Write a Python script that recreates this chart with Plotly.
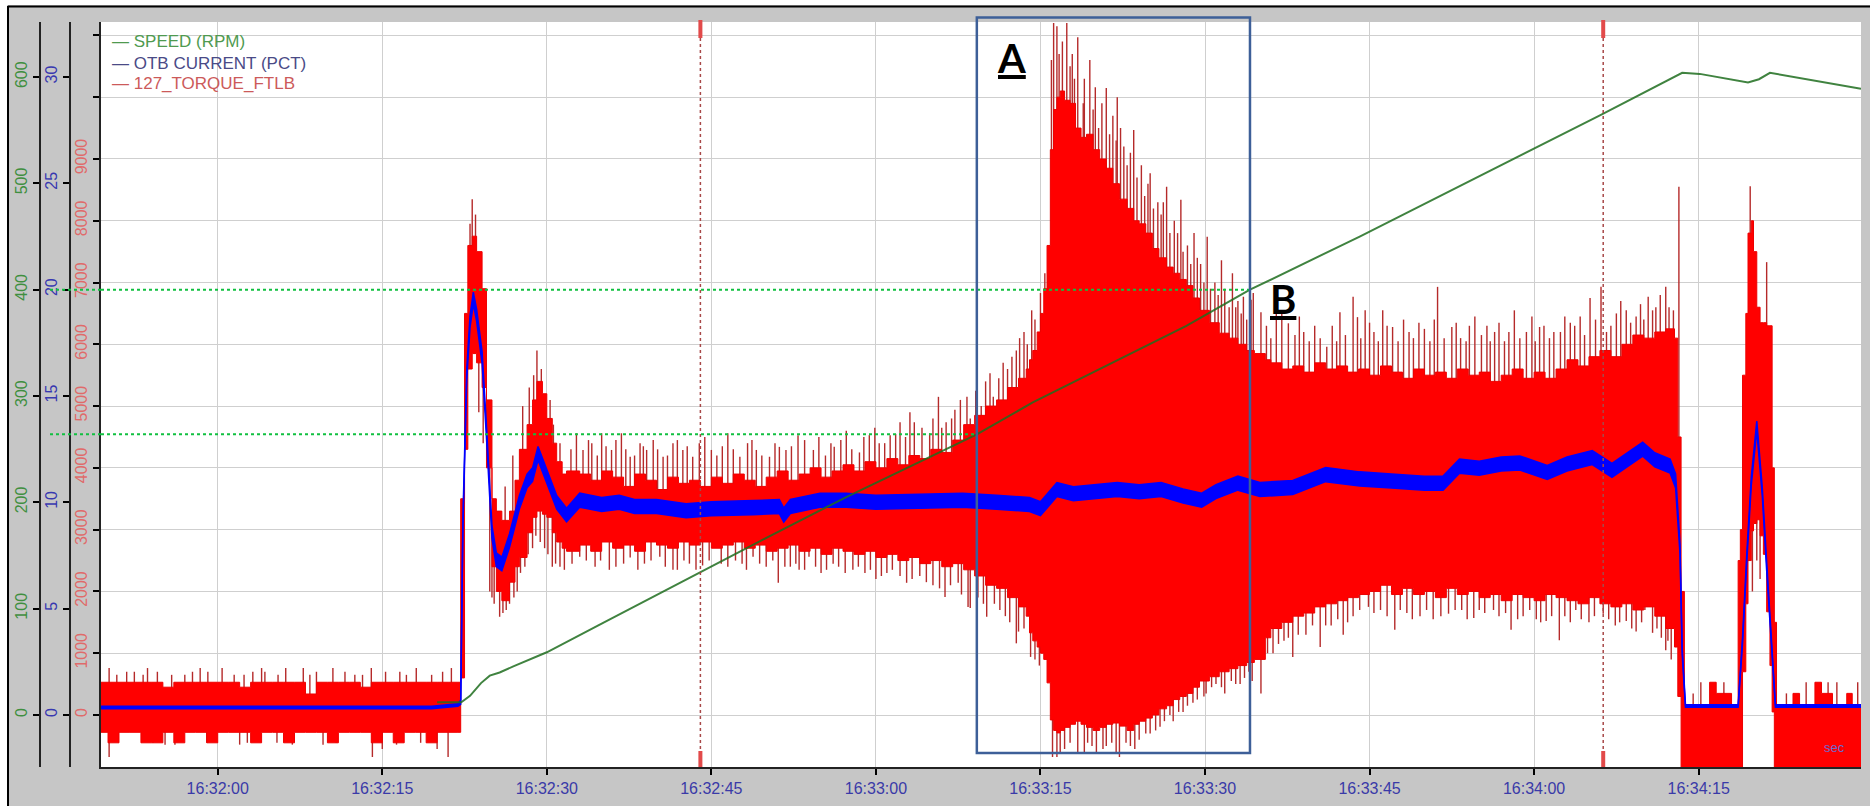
import numpy as np
import pandas as pd
import plotly.graph_objects as go

# ---------------------------------------------------------------- data
# all times are seconds after 16:32:00
T0 = pd.Timestamp("2020-01-01 16:32:00")
X_RANGE_S = [-10.64, 149.8]

# 127_TORQUE_FTLB : body envelope of the oscillating signal (step samples)
BODY_T = [-10.7, -10, -9, -8, -7, -6, -5, -4, -3, -2, -1, 0, 1, 2, 3, 4, 5, 6, 7, 8, 9, 10, 11, 12, 13, 14, 15, 16, 17, 18, 19, 20, 21,
          21.9, 22.15, 22.5, 22.8, 23.2, 23.6, 24.1, 24.5, 25.0, 25.4, 25.9, 26.6, 27.1, 27.5, 28.2, 28.7, 29.1, 29.6, 30.0, 30.5, 30.9, 31.4, 31.8,
          33, 34, 35, 36, 37, 38, 39, 40, 41, 42, 43, 44, 45, 46, 47, 48, 49, 50, 51, 52, 53, 54, 55, 56, 57, 58, 59, 60, 61, 62, 63, 64, 65, 66, 67, 68, 69, 70, 71, 72, 73,
          73.7, 74.0, 74.3, 74.7, 75.0, 75.3, 75.6, 75.9, 76.2, 76.5, 76.8, 77.2, 77.7, 78.2, 78.7, 79.2, 79.8, 80.4, 81.0, 81.6, 82.2, 82.9, 83.5, 84.0, 84.6, 85.2, 85.8, 86.5, 87.1, 87.7, 88.3, 88.9, 89.5, 90.4, 91.3, 92.2, 93.0, 93.8, 94.5, 95.5,
          96, 97, 98, 99, 100, 101, 102, 103, 104, 105, 106, 107, 108, 109, 110, 111, 112, 113, 114, 115, 116, 117, 118, 119, 120, 121, 122, 123, 124, 125, 126, 127, 128, 129, 130, 131, 132,
          132.8, 133.1, 133.4, 133.7, 136.0, 136.6, 138.0, 138.6, 138.8, 139.0, 139.3, 139.5, 139.8, 140.0, 140.3, 140.6, 140.9, 141.2, 141.5, 141.7, 141.9, 142.1, 143.6, 144.2, 145.6, 146.2, 147.2, 148.5, 149.0, 149.9]
BODY_HI = [530, 530, 530, 530, 530, 530, 450, 530, 530, 530, 530, 530, 530, 450, 530, 530, 530, 530, 530, 340, 530, 530, 530, 530, 450, 530, 530, 530, 530, 530, 530, 530, 530,
           530, 3500, 6500, 7600, 7750, 7500, 6900, 5100, 3500, 3300, 3150, 3300, 3800, 4300, 4700, 5100, 5400, 5200, 4800, 4400, 4100, 3900, 3950,
           3900, 3800, 3950, 3850, 3700, 3900, 3800, 3650, 3850, 3750, 3800, 3700, 3850, 3750, 3900, 3800, 3700, 3850, 3950, 3800, 3900, 4000, 3850, 3950, 4050, 3950, 4100, 4000, 4150, 4050, 4200, 4150, 4300, 4250, 4450, 4700, 4850, 5000, 5100, 5300, 5450,
           5600, 5750, 5900, 6200, 6500, 6900, 7600, 9150, 9800, 10000, 10100, 9950, 9900, 9500, 9350, 9400, 9150, 9000, 8850, 8600, 8350, 8200, 8000, 7950, 7800, 7550, 7400, 7250, 7150, 7050, 6950, 6750, 6550, 6350, 6180, 6100, 6000, 5900, 5850, 5750,
           5700, 5600, 5650, 5550, 5700, 5600, 5650, 5550, 5600, 5500, 5650, 5550, 5450, 5600, 5500, 5550, 5450, 5600, 5500, 5550, 5400, 5500, 5600, 5450, 5550, 5450, 5600, 5750, 5650, 5800, 5900, 5800, 6000, 6150, 6100, 6200, 6250,
           6100, 4500, 2000, 160, 530, 350, 160, 2500, 3000, 5500, 6500, 7800, 8000, 7500, 6600, 6350, 6350, 6300, 6300, 4000, 1500, 160, 350, 160, 530, 350, 160, 350, 160, 160]
BODY_LO = [-280, -450, -280, -280, -450, -450, -280, -450, -280, -280, -450, -280, -280, -280, -450, -280, -280, -450, -280, -280, -280, -450, -280, -280, -280, -450, -280, -450, -280, -280, -450, -280, -280,
           -280, 600, 4300, 5600, 5850, 5700, 5300, 4000, 2400, 2000, 1850, 2150, 2400, 2550, 2950, 3200, 3300, 3250, 3200, 2950, 2800, 2700, 2650,
           2750, 2650, 2800, 2700, 2750, 2650, 2800, 2750, 2700, 2800, 2750, 2800, 2700, 2750, 2800, 2700, 2750, 2650, 2700, 2750, 2650, 2700, 2600, 2700, 2650, 2600, 2650, 2550, 2600, 2500, 2550, 2450, 2500, 2400, 2450, 2350, 2250, 2100, 2050, 1900, 1750,
           1600, 1330, 1200, 1100, 1000, 900, 520, -80, -250, -290, -250, -200, -150, -100, -150, -200, -250, -200, -150, -130, -180, -250, -150, -100, -50, 0, 100, 150, 250, 300, 350, 450, 550, 620, 700, 750, 800, 850, 900, 1250,
           1400, 1500, 1600, 1650, 1750, 1800, 1850, 1900, 1950, 2000, 2100, 1950, 2050, 1950, 2000, 1900, 2050, 1950, 2000, 1900, 1950, 1850, 1950, 1900, 1850, 1950, 1900, 1850, 1800, 1900, 1800, 1750, 1800, 1700, 1750, 1600, 1400,
           1100, 300, -1200, -1200, -1200, -1200, -1200, -1200, -1200, 700, 1800, 2500, 2980, 3100, 3160, 2900, 2600, 1670, 800, 50, -1200, -1200, -1200, -1200, -1200, -1200, -1200, -1200, -1200, -1200]

# torque spikes beyond the body (time s, FTLB)
SPIKES_UP = [(-9.9, 760), (-9.2, 650), (-8.3, 700), (-7.6, 700), (-6.8, 650), (-6.4, 760), (-5.5, 700), (-4.2, 650), (-3.0, 650), (-2.3, 700),
             (-1.6, 760), (-0.9, 700), (0.4, 760), (1.5, 650), (2.4, 650), (3.2, 700), (4.0, 760), (4.3, 700), (5.5, 650), (6.2, 760),
             (7.8, 760), (8.4, 650), (9.0, 700), (10.5, 760), (11.6, 700), (12.5, 650), (13.2, 650), (14.0, 760), (15.3, 700), (16.6, 700),
             (17.2, 650), (18.1, 760), (19.5, 650), (20.5, 700), (21.3, 760),
             (23.0, 7950), (23.2, 8350), (23.5, 8100), (24.3, 6300), (26.2, 3700), (26.9, 4200), (27.8, 5000), (28.4, 5300), (28.8, 5500), (29.1, 5900),
             (29.5, 5600), (30.3, 5100), (30.6, 4700), (31.2, 4400),
             (32.2, 4300), (32.7, 4560), (33.3, 4290), (33.8, 4450), (34.1, 4400), (34.6, 4200), (35.0, 4560), (35.4, 4350), (35.9, 4290), (36.3, 4450),
             (36.8, 4560), (37.2, 4300), (37.6, 4180), (38.0, 4200), (38.5, 4400), (38.8, 4350), (39.1, 4290), (39.7, 4450), (40.1, 4300), (40.6, 4180),
             (41.0, 4200), (41.5, 4400), (41.9, 4450), (42.4, 4290), (42.8, 4350), (43.3, 4180), (43.9, 4400), (44.4, 4500), (45.0, 4290), (45.5, 4200),
             (46.0, 4350), (46.5, 4560), (47.0, 4300), (47.6, 4180), (48.3, 4400), (48.7, 4450), (49.1, 4290), (49.6, 4200), (50.3, 4180), (50.8, 4400),
             (51.2, 4340), (51.8, 4290), (52.3, 4350), (52.9, 4530), (53.5, 4450), (54.3, 4290), (54.8, 4500), (55.4, 4200), (55.9, 4400), (56.2, 4340),
             (56.8, 4450), (57.3, 4600), (57.8, 4300), (58.5, 4250), (58.9, 4500), (59.4, 4530), (59.9, 4650), (60.3, 4400), (60.8, 4400), (61.3, 4530),
             (61.8, 4550), (62.2, 4740), (62.7, 4500), (63.1, 4900), (63.5, 4740), (64.2, 4650), (64.9, 4560), (65.2, 4800), (65.7, 5150), (66.0, 4650),
             (66.4, 4740), (66.9, 4800), (67.2, 4940), (67.7, 5100), (68.3, 5150), (68.6, 4800), (69.1, 5250), (69.6, 5000), (70.0, 5400), (70.4, 5530),
             (70.7, 5150), (71.2, 5450), (71.6, 5700), (72.0, 5600), (72.4, 5800), (72.8, 5900), (73.1, 6100), (73.5, 6200), (73.8, 6000), (74.2, 6550),
             (74.5, 6400), (75.0, 6830), (75.4, 7150),
             (76.0, 10600), (76.2, 11200), (76.5, 11150), (76.7, 10700), (77.0, 10900), (77.4, 11200), (77.7, 10500), (77.9, 10700), (78.1, 10300),
             (78.4, 10970), (78.9, 9900), (79.0, 10300), (79.5, 10600), (79.8, 9800), (80.0, 10160), (80.3, 9500), (80.6, 9900), (81.0, 10150),
             (81.3, 9400), (81.6, 9700), (81.9, 9300), (82.0, 10000), (82.3, 9500), (82.6, 9200), (82.9, 8900), (83.2, 9100), (83.5, 9470), (83.8, 8700),
             (84.2, 8900), (84.5, 8400), (84.8, 8600), (85.0, 8770), (85.3, 8200), (85.7, 8300), (86.0, 8100), (86.2, 8300), (86.5, 8550), (86.8, 7800),
             (87.2, 8000), (87.5, 7800), (87.8, 8340), (88.0, 7500), (88.4, 7600), (88.7, 7300), (89.0, 7800), (89.3, 7400), (89.6, 7300), (89.9, 7000),
             (90.2, 7740), (90.5, 6900), (90.9, 7000), (91.2, 6800), (91.5, 7360), (91.8, 6900), (92.2, 6600), (92.5, 7150), (92.8, 6600), (93.0, 6700),
             (93.3, 6500), (93.5, 6770), (93.8, 6400), (94.2, 6720),
             (94.4, 6830), (95.1, 6520), (95.6, 6300), (96.0, 6100), (96.5, 6830), (97.0, 6550), (97.6, 6340), (98.2, 6150), (98.6, 6450), (99.0, 6200),
             (99.5, 6050), (100.0, 6300), (100.5, 6100), (101.1, 5960), (101.6, 6300), (102.0, 6050), (102.3, 6520), (102.8, 6150), (103.5, 6770),
             (103.9, 6440), (104.2, 6100), (104.6, 6550), (105.0, 6350), (105.4, 6200), (105.8, 6050), (106.2, 6550), (106.6, 6300), (107.1, 6280),
             (107.6, 6050), (108.1, 6400), (108.6, 6200), (109.0, 6100), (109.5, 6350), (110.0, 6250), (110.5, 6050), (110.9, 6400), (111.2, 6930),
             (111.8, 6100), (112.5, 6280), (112.9, 6350), (113.3, 6100), (113.8, 6050), (114.1, 6300), (114.6, 6450), (115.2, 6150), (115.7, 6300),
             (116.0, 6050), (116.4, 6200), (116.8, 6350), (117.3, 6050), (117.7, 6200), (118.2, 6550), (118.7, 6100), (119.3, 6200), (119.8, 6450),
             (120.1, 6050), (120.5, 6280), (120.9, 6300), (121.4, 6100), (121.8, 6200), (122.4, 6200), (122.8, 6450), (123.3, 6350), (123.7, 6300),
             (124.2, 6450), (124.6, 6150), (125.1, 6750), (125.6, 6400), (126.1, 6930), (126.6, 6200), (127.0, 6300), (127.5, 6500), (127.9, 6700),
             (128.4, 6550), (128.8, 6350), (129.3, 6450), (129.7, 6650), (130.0, 6400), (130.4, 6770), (130.8, 6550), (131.1, 6600), (131.5, 6800),
             (132.0, 6930), (132.3, 6600), (132.7, 6550), (133.2, 8550),
             (134.5, 350), (135.2, 530), (137.3, 530), (139.7, 8560), (140.1, 7300), (141.2, 7330), (143.0, 350), (144.8, 530), (146.8, 530),
             (147.6, 530), (149.5, 530)]
SPIKES_DN = [(-9.9, -680), (-5.9, -450), (-4.8, -480), (-3.9, -480), (-1.0, -450), (2.0, -480), (2.7, -450), (5.4, -450), (6.8, -480), (9.6, -480),
             (10.8, -450), (14.1, -680), (15.0, -550), (16.3, -480), (18.5, -450), (20.0, -550), (21.0, -680),
             (23.8, 4900), (24.2, 4400), (24.8, 2000), (25.0, 1900), (25.2, 1800), (25.7, 1590), (26.0, 1650), (26.3, 1700), (26.6, 1800), (27.0, 1900),
             (27.3, 2000), (27.6, 2300), (28.0, 2400), (28.3, 2600), (28.7, 2700), (29.0, 2900), (29.4, 2800), (29.8, 2700), (30.1, 2600), (30.5, 2400),
             (30.8, 2450), (31.2, 2400),
             (31.6, 2350), (32.3, 2450), (33.0, 2560), (33.6, 2500), (34.4, 2400), (34.9, 2500), (35.7, 2350), (36.3, 2400), (37.0, 2450), (37.6, 2550),
             (38.3, 2350), (38.9, 2450), (39.5, 2500), (40.3, 2560), (40.8, 2400), (41.5, 2350), (41.9, 2350), (42.5, 2500), (43.0, 2450), (43.6, 2350),
             (44.2, 2420), (44.8, 2500), (45.9, 2450), (46.5, 2400), (47.2, 2500), (47.8, 2450), (48.2, 2350), (48.8, 2560), (49.4, 2450), (50.0, 2400),
             (50.6, 2500), (51.1, 2140), (51.7, 2400), (52.2, 2400), (52.7, 2450), (53.0, 2350), (53.5, 2350), (53.9, 2560), (54.5, 2400), (55.0, 2300),
             (55.5, 2350), (56.1, 2450), (56.6, 2400), (57.2, 2300), (57.9, 2350), (58.4, 2400), (59.0, 2300), (59.5, 2350), (60.0, 2200), (60.5, 2250),
             (61.0, 2300), (61.5, 2350), (62.2, 2250), (62.8, 2140), (63.3, 2200), (64.0, 2250), (64.6, 2150), (65.2, 2100), (65.8, 2050), (66.3, 1910),
             (66.8, 2100), (67.5, 2140), (67.8, 1950), (68.4, 1750), (68.6, 1730), (69.3, 1900), (69.8, 1800), (70.1, 1590), (70.8, 1800), (71.3, 1700),
             (71.8, 1600), (72.2, 1500), (72.8, 1160), (73.0, 1350), (73.5, 1400), (74.1, 940), (74.5, 900), (74.9, 800),
             (76.1, -680), (76.5, -680), (76.8, -620), (77.2, -550), (77.7, -450), (78.4, -620), (79.0, -600), (79.3, -450), (79.7, -500), (80.1, -620),
             (80.7, -550), (81.0, -500), (81.5, -450), (81.9, -600), (82.2, -680), (82.8, -450), (83.2, -500), (83.6, -550), (84.0, -400), (84.6, -300),
             (85.0, -300), (85.5, -250), (85.9, -190), (86.3, -100), (86.8, 0), (87.1, -100), (87.6, 50), (88.0, 50), (88.4, 150), (88.9, 200),
             (89.3, 250), (89.9, 300), (90.1, 350), (90.6, 450), (91.0, 500), (91.5, 450), (91.8, 350), (92.4, 550), (92.8, 500), (93.2, 500),
             (93.6, 600), (94.0, 700), (94.3, 550), (95.1, 350),
             (95.7, 1000), (96.2, 1000), (96.7, 1150), (97.2, 1200), (97.6, 1250), (98.0, 940), (98.5, 1300), (99.2, 1300), (99.8, 1450), (100.5, 1100),
             (101.0, 1450), (101.5, 1450), (102.1, 1550), (102.6, 1300), (103.0, 1500), (103.5, 1600), (104.1, 1700), (104.9, 1750), (105.4, 1650),
             (106.0, 1700), (106.6, 1600), (107.3, 1380), (107.8, 1700), (108.4, 1650), (108.9, 1550), (109.6, 1600), (110.2, 1700), (110.8, 1550),
             (111.5, 1600), (112.2, 1640), (112.8, 1700), (113.4, 1700), (113.9, 1550), (114.5, 1570), (115.0, 1700), (115.5, 1650), (116.3, 1700),
             (116.8, 1600), (117.4, 1650), (117.9, 1380), (118.5, 1550), (119.0, 1600), (119.6, 1700), (120.2, 1550), (120.6, 1500), (121.1, 1520),
             (121.6, 1600), (122.3, 1210), (122.8, 1600), (123.3, 1500), (123.8, 1700), (124.3, 1550), (125.0, 1500), (125.5, 1600), (126.3, 1640),
             (126.8, 1550), (127.4, 1450), (127.8, 1500), (128.4, 1520), (128.9, 1400), (129.3, 1350), (129.8, 1500), (130.1, 1700), (130.8, 1330),
             (131.2, 1400), (131.6, 1250), (132.0, 1050), (132.2, 1200), (132.5, 900),
             (139.9, 2000), (140.3, 2500), (140.6, 2200)]

# OTB CURRENT (PCT): centre of the noisy band and its half thickness
CUR_T = [-10.7, 19.5, 21.9, 22.15, 22.35, 22.7, 23.0, 23.3, 23.6, 24.1, 24.5, 25.0, 25.4, 25.9, 26.6, 27.5, 28.2, 28.7, 29.2, 30.0, 30.9, 31.8,
         33.0, 35.0, 36.6, 38.0, 40.0, 42.7, 45.0, 48.8, 51.2, 51.6, 52.2, 54.9, 57.3, 60.0, 63.4, 67.9, 71.0, 74.0, 75.0, 76.0, 76.5, 78.0,
         80.0, 82.0, 84.0, 86.0, 88.0, 89.7, 91.0, 93.0, 95.0, 98.0, 101.0, 104.1, 107.0, 110.0, 111.7, 113.2, 115.0, 117.0, 118.7, 121.2,
         123.0, 125.3, 127.1, 128.5, 129.9, 131.0, 132.4, 132.9, 133.3, 133.5, 133.8, 138.6, 139.0, 139.4, 139.8, 140.3, 140.8, 141.2, 141.6, 142.0, 149.8]
CUR_V = [0.35, 0.35, 0.47, 0.6, 9.0, 16.0, 18.5, 19.6, 18.8, 16.8, 13.3, 8.6, 7.3, 7.1, 8.2, 10.0, 11.0, 11.3, 12.3, 11.2, 10.0, 9.4,
         10.1, 9.9, 10.0, 9.8, 9.8, 9.6, 9.7, 9.75, 9.8, 9.4, 9.8, 10.1, 10.1, 10.0, 10.05, 10.1, 10.0, 9.9, 9.7, 10.3, 10.6, 10.4,
         10.5, 10.6, 10.5, 10.6, 10.3, 10.1, 10.5, 10.9, 10.6, 10.7, 11.3, 11.1, 11.0, 10.9, 10.9, 11.7, 11.6, 11.8, 11.85, 11.4,
         11.8, 12.1, 11.5, 12.0, 12.5, 12.0, 11.7, 11.0, 7.8, 3.0, 0.42, 0.42, 3.5, 7.5, 11.0, 13.6, 10.5, 7.0, 3.5, 0.42, 0.42]
CUR_W = ([0.06, 0.06, 0.06] + [0.1, 0.2, 0.25, 0.28, 0.28, 0.28] + [0.28, 0.28, 0.3, 0.32, 0.32, 0.32] + [0.32] * 7 + [0.33] * 50
         + [0.22, 0.15] + [0.06, 0.06] + [0.15, 0.2, 0.2, 0.22, 0.2, 0.2, 0.15] + [0.06, 0.06])

# SPEED (RPM)
SPEED_T = [20.0, 22.2, 23.0, 24.0, 24.8, 25.7, 27.0, 30.0, 35.0, 43.9, 49.7, 57.3, 69.2, 74.3, 88.3, 94.1, 104.1, 126.0, 133.5, 135.1, 139.5, 140.5, 141.5, 149.8]
SPEED_V = [12, 12, 18, 30, 37, 40, 46, 59, 86, 134, 165, 205, 264, 294, 366, 400, 450, 564, 604, 603, 595, 598, 604, 589]

# cursors / event markers
MARKER_T = [44.0, 126.3]          # red dashed time markers
CURSOR_SPEED = [400, 264]         # green dotted speed cursors
CURSOR_T = [94.1, 69.2]           # where each cursor meets the speed trace
BOX_T = [69.2, 94.1]              # window "A"
LABEL_TEXT = ["A", "B"]
LABEL_T = [72.4, 97.1]

TORQUE_TICKS = [0, 1000, 2000, 3000, 4000, 5000, 6000, 7000, 8000, 9000, 10000, 11000]
TORQUE_TICKTEXT = ["0", "1000", "2000", "3000", "4000", "5000", "6000", "7000", "8000", "9000", "", ""]
CUR_TICKS = [0, 5, 10, 15, 20, 25, 30]
SPEED_TICKS = [0, 100, 200, 300, 400, 500, 600]
LEGEND = [("SPEED (RPM)", "#4f9a4f"), ("OTB CURRENT (PCT)", "#4a4a86"), ("127_TORQUE_FTLB", "#cc5a5a")]

assert len(BODY_T) == len(BODY_HI) == len(BODY_LO)
assert len(CUR_T) == len(CUR_V) == len(CUR_W)
assert len(SPEED_T) == len(SPEED_V)

# ---------------------------------------------------------------- helpers
def tx(secs):
    return [None if s is None else T0 + pd.Timedelta(seconds=float(s)) for s in secs]

body_t = np.array(BODY_T, float)
body_mid = (np.array(BODY_HI, float) + np.array(BODY_LO, float)) / 2


def body_mid_at(t):
    i = max(0, int(np.searchsorted(body_t, t, side="right")) - 1)
    return body_mid[i]


spx, spy = [], []
for t, v in SPIKES_UP + SPIKES_DN:
    spx += [t, t, None]
    spy += [body_mid_at(t), v, None]

# ---------------------------------------------------------------- layout geometry
W, H = 1870, 806
ML, MR, MT, MB = 8, 9, 22, 39
PW, PH = W - ML - MR, H - MT - MB
X_DOM0 = (101 - ML) / PW


def px_x(p):
    return (p - ML) / PW


def px_y(p):
    return (H - MB - p) / PH


fig = go.Figure()

# torque spikes (under the body)
fig.add_trace(go.Scatter(x=tx(spx), y=spy, mode="lines", line=dict(color="#b52a2a", width=1.4),
                         hoverinfo="skip", yaxis="y", connectgaps=False))
# torque body
fig.add_trace(go.Scatter(x=tx(BODY_T), y=BODY_LO, mode="lines", line=dict(color="#ee0000", width=1, shape="hv"),
                         hoverinfo="skip", yaxis="y"))
fig.add_trace(go.Scatter(x=tx(BODY_T), y=BODY_HI, mode="lines", line=dict(color="#ee0000", width=1, shape="hv"),
                         fill="tonexty", fillcolor="#ff0000", name="127_TORQUE_FTLB", yaxis="y"))
# current band
cv, cw = np.array(CUR_V), np.array(CUR_W)
fig.add_trace(go.Scatter(x=tx(CUR_T), y=cv - cw, mode="lines", line=dict(color="#0000ff", width=1.5),
                         hoverinfo="skip", yaxis="y2"))
fig.add_trace(go.Scatter(x=tx(CUR_T), y=cv + cw, mode="lines", line=dict(color="#0000ff", width=1.5),
                         fill="tonexty", fillcolor="#0000ff", name="OTB CURRENT (PCT)", yaxis="y2"))
# speed
fig.add_trace(go.Scatter(x=tx(SPEED_T), y=SPEED_V, mode="lines", line=dict(color="#1f6e1f", width=2),
                         opacity=0.85, name="SPEED (RPM)", yaxis="y3"))

shapes = []
# frame decorations
shapes.append(dict(type="rect", xref="paper", yref="paper", x0=px_x(0), x1=px_x(W), y0=px_y(5), y1=px_y(0),
                   fillcolor="white", line_width=0, layer="below"))
shapes.append(dict(type="rect", xref="paper", yref="paper", x0=px_x(0), x1=px_x(7), y0=px_y(H), y1=px_y(0),
                   fillcolor="white", line_width=0, layer="below"))
shapes.append(dict(type="line", xref="paper", yref="paper", x0=px_x(8), x1=px_x(W), y0=px_y(6.5), y1=px_y(6.5),
                   line=dict(color="black", width=2)))
shapes.append(dict(type="line", xref="paper", yref="paper", x0=px_x(8), x1=px_x(8), y0=px_y(H), y1=px_y(6),
                   line=dict(color="black", width=2)))
# red dashed time markers
for t in MARKER_T:
    xt = tx([t])[0]
    shapes.append(dict(type="line", xref="x", yref="paper", x0=xt, x1=xt, y0=0, y1=1,
                       line=dict(color="#a84848", width=1.5, dash="3px,3px")))
    shapes.append(dict(type="line", xref="x", yref="paper", x0=xt, x1=xt, y0=px_y(38), y1=px_y(20),
                       line=dict(color="#e24a4a", width=4)))
    shapes.append(dict(type="line", xref="x", yref="paper", x0=xt, x1=xt, y0=px_y(767), y1=px_y(751),
                       line=dict(color="#e24a4a", width=4)))
# green speed cursors
for s, t in zip(CURSOR_SPEED, CURSOR_T):
    shapes.append(dict(type="line", xref="paper", yref="y3", x0=px_x(50), x1=X_DOM0, y0=s, y1=s,
                       line=dict(color="#10c040", width=2, dash="dot")))
    shapes.append(dict(type="line", xref="x", yref="y3", x0=tx([X_RANGE_S[0]])[0], x1=tx([t])[0], y0=s, y1=s,
                       line=dict(color="#10c040", width=2, dash="dot")))
# window A
shapes.append(dict(type="rect", xref="x", yref="paper", x0=tx([BOX_T[0]])[0], x1=tx([BOX_T[1]])[0],
                   y0=px_y(753), y1=px_y(17.5), line=dict(color="#3d5f98", width=2.5), fillcolor="rgba(0,0,0,0)"))

annotations = []
for i, (txt, col) in enumerate(LEGEND):
    annotations.append(dict(xref="x domain", yref="paper", x=(110 - 101) / 1760, y=px_y(42 + 21 * i),
                            xanchor="left", yanchor="middle", showarrow=False, text="— " + txt,
                            font=dict(family="Liberation Sans, Arial", size=17, color=col)))
label_y = [px_y(58), px_y(299)]
for txt, t, yy in zip(LABEL_TEXT, LABEL_T, label_y):
    annotations.append(dict(xref="x", yref="paper", x=tx([t])[0], y=yy, xanchor="center", yanchor="middle",
                            showarrow=False, text="<b><u>%s</u></b>" % txt,
                            font=dict(family="Lato, Liberation Sans", size=40, color="black")))
annotations.append(dict(xref="x domain", yref="paper", x=(1834 - 101) / 1760, y=px_y(747), showarrow=False,
                        text="sec", font=dict(family="Liberation Sans", size=13, color="#6a6ad0"),
                        xanchor="center", yanchor="middle"))

tickfont = dict(family="Liberation Sans, Arial", size=16)
fig.update_layout(
    width=W, height=H, margin=dict(l=ML, r=MR, t=MT, b=MB, pad=0),
    paper_bgcolor="#c6c6c6", plot_bgcolor="white", showlegend=False,
    xaxis=dict(domain=[X_DOM0, 1], type="date", range=tx(X_RANGE_S), tickformat="%H:%M:%S",
               dtick=15000, tick0=T0, ticks="outside", ticklen=6, tickwidth=2, tickcolor="black",
               showline=True, linecolor="#222222", linewidth=2, showgrid=True, gridcolor="#cfcfcf", gridwidth=1.2,
               zeroline=False, tickfont=dict(tickfont, color="#3a3aa8")),
    yaxis=dict(range=[-841.7, 11217], tickvals=TORQUE_TICKS, ticktext=TORQUE_TICKTEXT, tickangle=-90,
               ticks="outside", ticklen=6, tickwidth=2, tickcolor="black", showline=True, linecolor="#222222",
               linewidth=2, showgrid=True, gridcolor="#cfcfcf", gridwidth=1.2, zeroline=False,
               tickfont=dict(tickfont, color="#e06a6a")),
    yaxis2=dict(range=[-2.445, 32.58], tickvals=CUR_TICKS, tickangle=-90, overlaying="y", anchor="free",
                side="left", position=px_x(70), ticks="outside", ticklen=6, tickwidth=2, tickcolor="black",
                showline=True, linecolor="#222222", linewidth=2, showgrid=False, zeroline=False,
                tickfont=dict(tickfont, color="#3838b0")),
    yaxis3=dict(range=[-48.9, 651.8], tickvals=SPEED_TICKS, tickangle=-90, overlaying="y", anchor="free",
                side="left", position=px_x(40), ticks="outside", ticklen=6, tickwidth=2, tickcolor="black",
                showline=True, linecolor="#222222", linewidth=2, showgrid=False, zeroline=False,
                tickfont=dict(tickfont, color="#3f8f3f")),
    shapes=shapes, annotations=annotations,
)

fig.write_html("out.html")
